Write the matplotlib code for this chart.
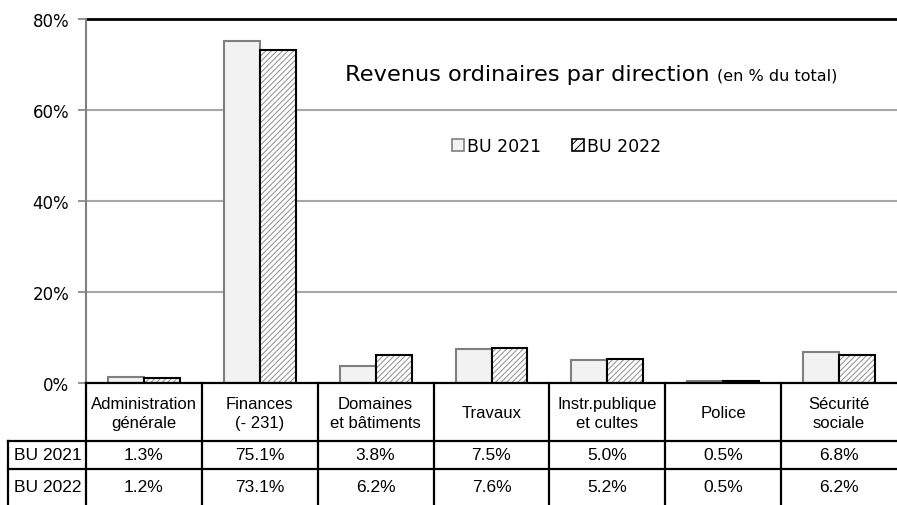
import numpy as np
import matplotlib
matplotlib.use("Agg")
import matplotlib.pyplot as plt
from matplotlib import font_manager
from matplotlib.patches import Patch

categories = ["Administration\ngénérale", "Finances\n(- 231)", "Domaines\net bâtiments",
              "Travaux", "Instr.publique\net cultes", "Police", "Sécurité\nsociale"]
series_names = ["BU 2021", "BU 2022"]
bu2021 = [1.3, 75.1, 3.8, 7.5, 5.0, 0.5, 6.8]
bu2022 = [1.2, 73.1, 6.2, 7.6, 5.2, 0.5, 6.2]
yticks = [0, 20, 40, 60, 80]

names = {f.name for f in font_manager.fontManager.ttflist}
narrow = "Liberation Sans Narrow" if "Liberation Sans Narrow" in names else "Liberation Sans"
main_font = "DejaVu Sans"

W, H = 897, 506
fig = plt.figure(figsize=(W / 100, H / 100), dpi=100)

# pixel layout
left, right, top, bottom = 86, 897, 20, 384
ax = fig.add_axes([left / W, 1 - bottom / H, (right - left) / W, (bottom - top) / H])

n = len(categories)
x = np.arange(n) + 0.5
bw = 0.31
plt.rcParams["hatch.linewidth"] = 0.7
ax.bar(x - bw / 2, bu2021, bw, color="#f2f2f2", edgecolor="#7f7f7f", linewidth=1.5, zorder=3)
# hatch in grey, then black outline on top
ax.bar(x + bw / 2, bu2022, bw, color="white", edgecolor="#8c8c8c", linewidth=0,
       hatch="//////", zorder=3)
ax.bar(x + bw / 2, bu2022, bw, fill=False, edgecolor="black", linewidth=1.5, zorder=4)

ax.set_xlim(0, n)
ax.set_ylim(0, 80)
ax.set_yticks(yticks)
ax.set_yticklabels([f"{v}%" for v in yticks], fontsize=12, family=main_font)
ax.tick_params(axis="y", length=6, width=1.2, color="#808080", pad=6)
ax.set_xticks([])
for s in ["top", "right", "bottom"]:
    ax.spines[s].set_visible(False)
ax.spines["left"].set_color("#808080")
ax.spines["left"].set_linewidth(1.5)
for v in yticks[1:-1]:
    ax.axhline(v, color="#a6a6a6", linewidth=1.5, zorder=1)
ax.axhline(80, color="black", linewidth=2, zorder=1, clip_on=False)

handles = [Patch(facecolor="#f2f2f2", edgecolor="#7f7f7f", linewidth=1.2),
           Patch(facecolor="white", edgecolor="black", linewidth=1.2, hatch="////")]
ax.legend(handles, series_names, loc="center", bbox_to_anchor=(0.58, 0.651), ncol=2,
          frameon=False, handlelength=0.7, handleheight=0.7, handletextpad=0.15,
          columnspacing=1.8, prop={"family": main_font, "size": 12.5})

fig.text(345 / W, 1 - 75 / H, "Revenus ordinaires par direction", fontsize=16.2,
         family=main_font, ha="left", va="center")
fig.text(717 / W, 1 - 76 / H, "(en % du total)", fontsize=11.5,
         family=main_font, ha="left", va="center")

# data table below the plot
tab = fig.add_axes([0, 0, 1, 1], facecolor="none")
tab.set_xlim(0, W)
tab.set_ylim(H, 0)
tab.axis("off")
cw = (right - left) / n
row_y = [384, 442, 470, 506]
lw = 1.6
tab.plot([left, right], [row_y[0]] * 2, color="black", lw=lw)
tab.plot([8, right], [row_y[1]] * 2, color="black", lw=lw)
tab.plot([8, right], [row_y[2]] * 2, color="black", lw=lw)
tab.plot([8, 8], [row_y[1], H], color="black", lw=lw)
for i in range(n):
    xb = left + i * cw
    tab.plot([xb, xb], [row_y[0], H], color="black", lw=lw)
    xc = xb + cw / 2
    tab.text(xc, (row_y[0] + row_y[1]) / 2 + 1, categories[i], ha="center", va="center",
             fontsize=12, family=narrow, linespacing=1.4)
    tab.text(xc, (row_y[1] + row_y[2]) / 2, f"{bu2021[i]:.1f}%", ha="center", va="center",
             fontsize=12.5, family=narrow)
    tab.text(xc, (row_y[2] + row_y[3]) / 2, f"{bu2022[i]:.1f}%", ha="center", va="center",
             fontsize=12.5, family=narrow)
for j, name in enumerate(series_names):
    tab.text(14, (row_y[j + 1] + row_y[j + 2]) / 2, name, ha="left", va="center",
             fontsize=12.5, family=narrow)

fig.savefig("out.png", dpi=100)
